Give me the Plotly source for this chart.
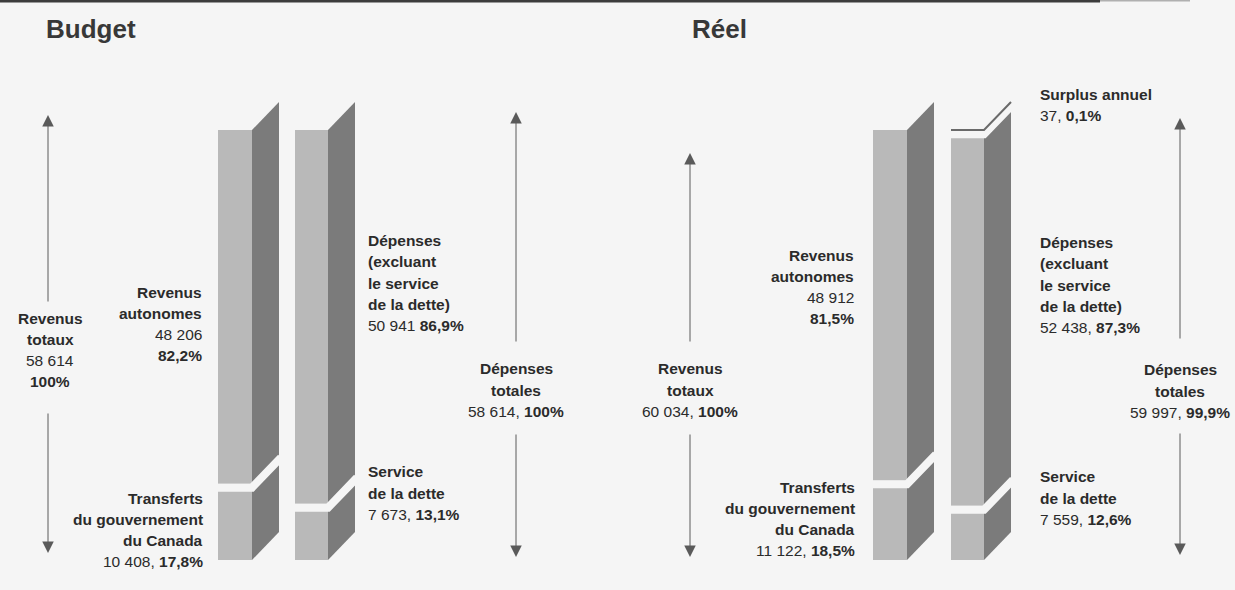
import plotly.graph_objects as go

# ---------------- data ----------------
budget_revenue_values = [10408, 48206]          # transferts, revenus autonomes
budget_revenue_shares = ["17,8%", "82,2%"]
budget_expense_values = [7673, 50941]           # service de la dette, dépenses
budget_expense_shares = ["13,1%", "86,9%"]
budget_total_revenue = 58614
budget_total_expense = 58614

real_revenue_values = [11122, 48912]
real_revenue_shares = ["18,5%", "81,5%"]
real_expense_values = [7559, 52438]
real_expense_shares = ["12,6%", "87,3%"]
real_surplus = 37
real_surplus_share = "0,1%"
real_total_revenue = 60034
real_total_expense = 59997
real_total_expense_share = "99,9%"

panel_titles = ["Budget", "Réel"]


def fmt(n):
    return f"{n:,}".replace(",", " ")


# ---------------- geometry / style ----------------
W, H = 1235, 590
ZERO_PX = 560.0
PX_PER_PCT = 4.3
DEPTH_X = 27.0
DEPTH_PCT = 28.0 / PX_PER_PCT
GAP_PX = 8.0
BG = "#f5f5f5"
FRONT = "#b9b9b9"
SIDE = "#7b7b7b"
TEXT = "#2b2b2b"
ARROW = "#5a5a5a"
FONT = "Liberation Sans, Arial, sans-serif"
FS = 15.5
LINE_PX = 21.3


def v(py):
    return (ZERO_PX - py) / PX_PER_PCT


columns = [
    dict(x0=218, w=34, values=budget_revenue_values, total=budget_total_revenue, surplus=None),
    dict(x0=295, w=33, values=budget_expense_values, total=budget_total_revenue, surplus=None),
    dict(x0=873, w=34, values=real_revenue_values, total=real_total_revenue, surplus=None),
    dict(x0=951, w=33, values=real_expense_values, total=real_total_revenue, surplus=real_surplus),
]

fig = go.Figure()
gap_traces = []
surplus_traces = []
for col in columns:
    pcts = [100.0 * val / col["total"] for val in col["values"]]
    bases = []
    c = 0.0
    for p in pcts:
        bases.append(c)
        c += p
    xc = col["x0"] + col["w"] / 2
    x1 = col["x0"] + col["w"]
    # front faces
    fig.add_trace(go.Bar(x=[xc] * len(pcts), y=pcts, base=bases, width=col["w"],
                         marker=dict(color=FRONT, line=dict(width=0)), hoverinfo="skip"))
    # side faces
    for b, p in zip(bases, pcts):
        t = b + p
        fig.add_trace(go.Scatter(
            x=[x1, x1 + DEPTH_X, x1 + DEPTH_X, x1, x1],
            y=[b, b + DEPTH_PCT, t + DEPTH_PCT, t, b],
            mode="lines", fill="toself", fillcolor=SIDE, line=dict(width=0, color=SIDE),
            hoverinfo="skip"))
    # gaps between segments
    boundaries = [b + p for b, p in zip(bases, pcts)][:-1]
    if col["surplus"] is not None:
        boundaries.append(c)
    off = GAP_PX / 2 / PX_PER_PCT
    ext = 2.0
    for bnd in boundaries:
        yb = bnd - off
        gap_traces.append(go.Scatter(
            x=[col["x0"] - 1, x1, x1 + DEPTH_X + ext],
            y=[yb, yb, yb + DEPTH_PCT * (DEPTH_X + ext) / DEPTH_X],
            mode="lines", line=dict(color=BG, width=GAP_PX), hoverinfo="skip"))
    if col["surplus"] is not None:
        top = c + 100.0 * col["surplus"] / col["total"]
        surplus_traces.append(go.Scatter(
            x=[col["x0"], x1, x1 + DEPTH_X],
            y=[top, top, top + DEPTH_PCT],
            mode="lines", line=dict(color="#6a6a6a", width=2), hoverinfo="skip"))

for tr in gap_traces + surplus_traces:
    fig.add_trace(tr)

# ---------------- labels (one annotation per line) ----------------
def b(s):
    return f"<b>{s}</b>"


labels = [
    ([b("Revenus"), b("totaux"), fmt(budget_total_revenue), b("100%")], 50, 350, "center"),
    ([b("Revenus"), b("autonomes"), fmt(budget_revenue_values[1]), b(budget_revenue_shares[1])], 204, 324, "right"),
    ([b("Transferts"), b("du gouvernement"), b("du Canada"),
      f"{fmt(budget_revenue_values[0])}, {b(budget_revenue_shares[0])}"], 205, 530, "right"),
    ([b("Dépenses"), b("(excluant"), b("le service"), b("de la dette)"),
      f"{fmt(budget_expense_values[1])} {b(budget_expense_shares[1])}"], 366, 283, "left"),
    ([b("Service"), b("de la dette"), f"{fmt(budget_expense_values[0])}, {b(budget_expense_shares[0])}"], 366, 493, "left"),
    ([b("Dépenses"), b("totales"), f"{fmt(budget_total_expense)}, {b('100%')}"], 516, 390, "center"),
    ([b("Revenus"), b("totaux"), f"{fmt(real_total_revenue)}, {b('100%')}"], 690, 390, "center"),
    ([b("Revenus"), b("autonomes"), fmt(real_revenue_values[1]), b(real_revenue_shares[1])], 856, 287, "right"),
    ([b("Transferts"), b("du gouvernement"), b("du Canada"),
      f"{fmt(real_revenue_values[0])}, {b(real_revenue_shares[0])}"], 857, 519, "right"),
    ([b("Surplus annuel"), f"{fmt(real_surplus)}, {b(real_surplus_share)}"], 1038, 105, "left"),
    ([b("Dépenses"), b("(excluant"), b("le service"), b("de la dette)"),
      f"{fmt(real_expense_values[1])}, {b(real_expense_shares[1])}"], 1038, 285, "left"),
    ([b("Service"), b("de la dette"), f"{fmt(real_expense_values[0])}, {b(real_expense_shares[0])}"], 1038, 498, "left"),
    ([b("Dépenses"), b("totales"), f"{fmt(real_total_expense)}, {b(real_total_expense_share)}"], 1180, 391, "center"),
]
annotations = []
for lines, x, ycen, anchor in labels:
    n = len(lines)
    for i, line in enumerate(lines):
        ypx = ycen + (i - (n - 1) / 2) * LINE_PX
        annotations.append(dict(text=line, x=x, y=v(ypx), xref="x", yref="y", xanchor=anchor,
                                yanchor="middle", align=anchor, showarrow=False,
                                font=dict(family=FONT, size=FS, color=TEXT)))

# titles
for title, x in zip(panel_titles, [44, 690]):
    annotations.append(dict(text=f"<b>{title}</b>", x=x, y=v(29), xref="x", yref="y",
                            xanchor="left", yanchor="middle", showarrow=False,
                            font=dict(family=FONT, size=26, color="#383838")))

# double arrows (x, top, break top, break bottom, bottom) in pixel rows
arrows = [(48, 115, 303, 412, 553), (516, 112, 343, 433, 557),
          (690, 153, 343, 433, 557), (1180, 118, 340, 432, 555)]
for x, top, bt, bb, bot in arrows:
    for head, tail in [(top, bt), (bot, bb)]:
        annotations.append(dict(text="", x=x, y=v(head), ax=x, ay=v(tail), xref="x", yref="y",
                                axref="x", ayref="y", showarrow=True, arrowhead=2,
                                arrowsize=2.3, arrowwidth=1, arrowcolor=ARROW))

fig.update_layout(
    width=W, height=H, margin=dict(l=0, r=0, t=0, b=0),
    paper_bgcolor=BG, plot_bgcolor=BG, showlegend=False, barmode="overlay",
    xaxis=dict(range=[0, W], visible=False, fixedrange=True),
    yaxis=dict(range=[v(H), v(0)], visible=False, fixedrange=True),
    annotations=annotations,
    shapes=[dict(type="line", xref="x", yref="paper", x0=0, x1=1100, y0=1 - 1.2 / H, y1=1 - 1.2 / H,
                 line=dict(color="#3c3c3c", width=2.5)),
            dict(type="line", xref="x", yref="paper", x0=1100, x1=1190, y0=1 - 0.8 / H, y1=1 - 0.8 / H,
                 line=dict(color="#b0b0b0", width=1.5))],
)

fig.write_html(
    "out.html",
    config={"displayModeBar": False},
    post_script="document.body.style.margin='0';document.body.style.overflow='hidden';"
                "document.body.style.background='" + BG + "';",
)
